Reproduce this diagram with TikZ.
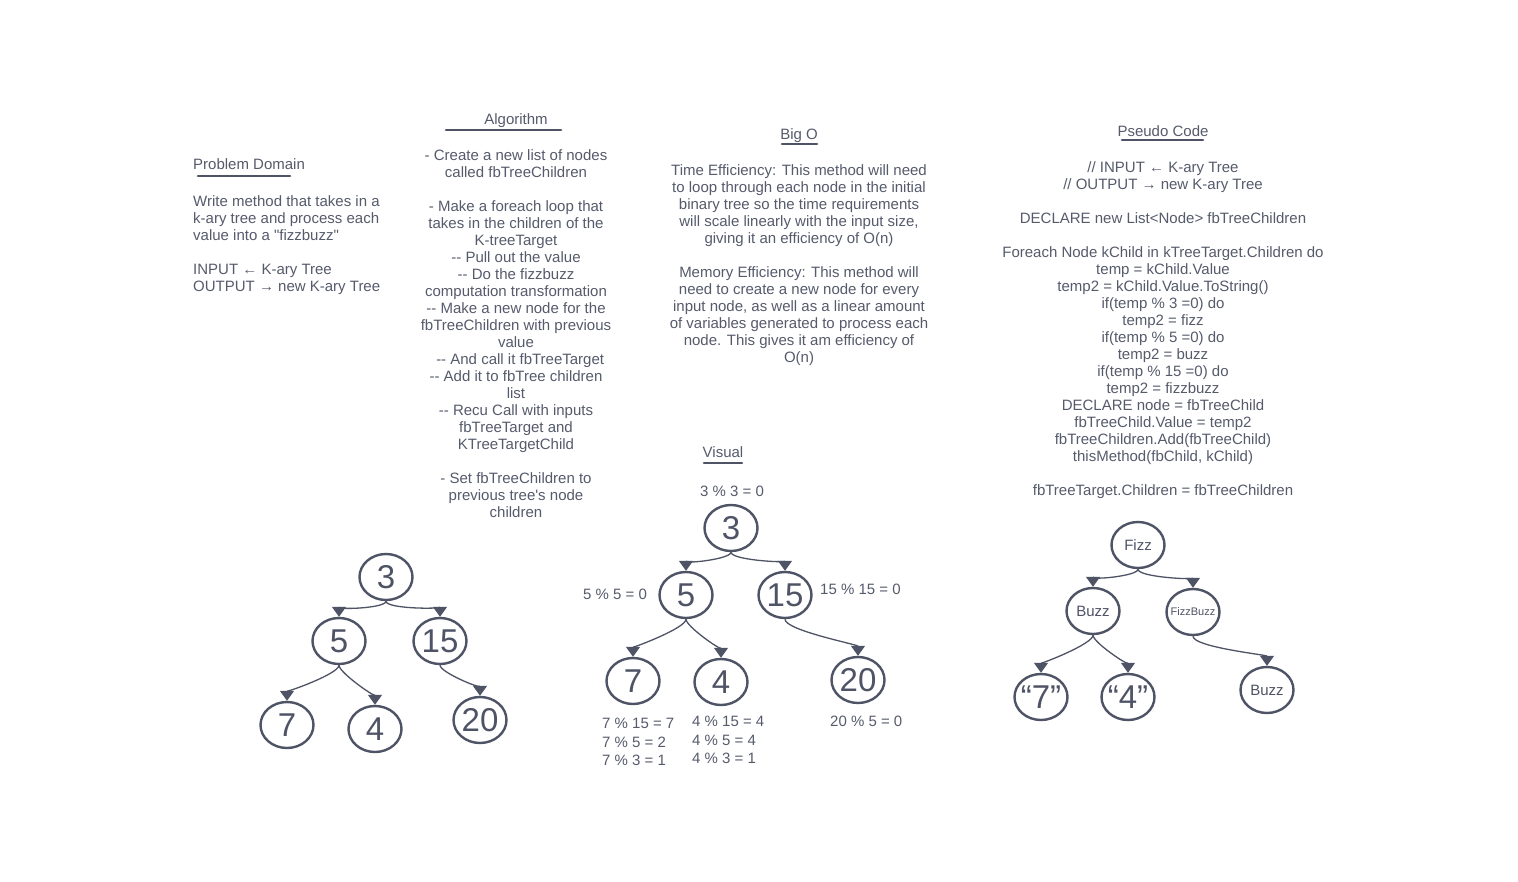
\documentclass[tikz,border=0pt]{standalone}
\usepackage{fontspec}
\newfontfamily\skfont{Liberation Sans}
\usetikzlibrary{shapes.geometric, arrows.meta}
\definecolor{ink}{RGB}{78,83,101}
\definecolor{inktext}{RGB}{86,91,108}
\newcommand{\hw}[1]{\makebox[0pt]{#1}} % keeps the ellipse size fixed
\tikzset{
every node/.style={font=\skfont\fontsize{15}{17}\selectfont, text=inktext, inner sep=0pt},
heading/.style={anchor=base},
bodytext/.style={align=center, anchor=north},
tnode/.style={ellipse, draw=ink, line width=2.4pt, minimum width=53pt, minimum height=46pt, font=\skfont\fontsize{33}{33}\selectfont, text=ink},
wnode/.style={tnode, font=\skfont\fontsize{15}{17}\selectfont}, % nodes of the fizzbuzz tree
link/.style={-{Triangle[width=14pt,length=10pt]}, draw=ink, line width=1.3pt, out=-90, in=90, looseness=0.35},
bar/.style={ink, line width=2.6pt, line cap=round},
calcnote/.style={font=\skfont\fontsize{15}{18.5}\selectfont, align=left},
}

\begin{document}
\begin{tikzpicture}[x=1pt, y=-1pt]
\useasboundingbox (0,0) rectangle (1518,882);
\fill[white] (0,0) rectangle (1518,882);

% headings
\node[heading, anchor=base west] (hDomain) at (193,170) {Problem Domain};
\node[heading] (hAlgo) at (516,125) {Algorithm};
\node[heading] (hBigO) at (799,140) {Big O};
\node[heading] (hPseudo) at (1163,137) {Pseudo Code};
\node[heading] (hVisual) at (723,457) {Visual};
\draw[bar] (198,176) -- (290,176);
\draw[bar] (446,130) -- (561,130);
\draw[bar] (782,144) -- (817,144);
\draw[bar] (1122,140) -- (1203,140);
\draw[bar] (704,463) -- (742,463);

% text blocks
\node[bodytext, align=left, anchor=north west] (tDomain) at (193,195) {Write method that takes in a\\
k-ary tree and process each\\
value into a "fizzbuzz"\\[17pt]
INPUT ← K-ary Tree\\
OUTPUT → new K-ary Tree};

\node[bodytext] (tAlgo) at (516,149) {- Create a new list of nodes\\
called fbTreeChildren\\[17pt]
- Make a foreach loop that\\
takes in the children of the\\
K-treeTarget\\
-{}- Pull out the value\\
-{}- Do the fizzbuzz\\
computation transformation\\
-{}- Make a new node for the\\
fbTreeChildren with previous\\
value\\
\ \ -{}- And call it fbTreeTarget\\
-{}- Add it to fbTree children\\
list\\
-{}- Recu Call with inputs\\
fbTreeTarget and\\
KTreeTargetChild\\[17pt]
- Set fbTreeChildren to\\
previous tree's node\\
children};

\node[bodytext] (tBigO) at (799,164) {Time Efficiency: This method will need\\
to loop through each node in the initial\\
binary tree so the time requirements\\
will scale linearly with the input size,\\
giving it an efficiency of O(n)\\[17pt]
Memory Efficiency: This method will\\
need to create a new node for every\\
input node, as well as a linear amount\\
of variables generated to process each\\
node. This gives it am efficiency of\\
O(n)};

\node[bodytext] (tPseudo) at (1163,161) {// INPUT ← K-ary Tree\\
// OUTPUT → new K-ary Tree\\[17pt]
DECLARE new List<Node> fbTreeChildren\\[17pt]
Foreach Node kChild in kTreeTarget.Children do\\
temp = kChild.Value\\
temp2 = kChild.Value.ToString()\\
if(temp \% 3 =0) do\\
temp2 = fizz\\
if(temp \% 5 =0) do\\
temp2 = buzz\\
if(temp \% 15 =0) do\\
temp2 = fizzbuzz\\
DECLARE node = fbTreeChild\\
fbTreeChild.Value = temp2\\
fbTreeChildren.Add(fbTreeChild)\\
thisMethod(fbChild, kChild)\\[17pt]
fbTreeTarget.Children = fbTreeChildren};

% input tree
\node[tnode] (l3) at (386,577) {\hw{3}};
\node[tnode] (l5) at (339,641) {\hw{5}};
\node[tnode] (l15) at (440,641) {\hw{15}};
\node[tnode] (l7) at (287,725) {\hw{7}};
\node[tnode] (l4) at (375,729) {\hw{4}};
\node[tnode] (l20) at (480,720) {\hw{20}};
\draw
    (l3.south) edge[link] (l5.north)
    (l3.south) edge[link] (l15.north)
    (l5.south) edge[link] (l7.north)
    (l5.south) edge[link] (l4.north)
    (l15.south) edge[link] (l20.north)
    ;

% visual tree with the checks
\node[tnode] (v3) at (731,528) {\hw{3}};
\node[tnode] (v5) at (686,595) {\hw{5}};
\node[tnode] (v15) at (785,595) {\hw{15}};
\node[tnode] (v7) at (633,681) {\hw{7}};
\node[tnode] (v4) at (721,682) {\hw{4}};
\node[tnode] (v20) at (858,680) {\hw{20}};
\draw
    (v3.south) edge[link] (v5.north)
    (v3.south) edge[link] (v15.north)
    (v5.south) edge[link] (v7.north)
    (v5.south) edge[link] (v4.north)
    (v15.south) edge[link] (v20.north)
    ;
\node[anchor=base] (c3) at (732,496) {3 \% 3 = 0};
\node[anchor=base west] (c5) at (583,599) {5 \% 5 = 0};
\node[anchor=base west] (c15) at (820,594) {15 \% 15 = 0};
\node[anchor=base west] (c20) at (830,726) {20 \% 5 = 0};
\node[calcnote, anchor=north west] (c7) at (602,718) {7 \% 15 = 7\\7 \% 5 = 2\\7 \% 3 = 1};
\node[calcnote, anchor=north west] (c4) at (692,716) {4 \% 15 = 4\\4 \% 5 = 4\\4 \% 3 = 1};

% output tree
\node[wnode] (fFizz) at (1138,545) {\hw{Fizz}};
\node[wnode] (fBuzz) at (1093,611) {\hw{Buzz}};
\node[wnode, font=\skfont\fontsize{11}{13}\selectfont] (fFB) at (1193,612) {\hw{FizzBuzz}};
\node[tnode] (f7) at (1041,697) {\hw{“7”}};
\node[tnode] (f4) at (1128,697) {\hw{“4”}};
\node[wnode] (fBuzzB) at (1267,690) {\hw{Buzz}};
\draw
    (fFizz.south) edge[link] (fBuzz.north)
    (fFizz.south) edge[link] (fFB.north)
    (fBuzz.south) edge[link] (f7.north)
    (fBuzz.south) edge[link] (f4.north)
    (fFB.south) edge[link] (fBuzzB.north)
    ;
\end{tikzpicture}
\end{document}
